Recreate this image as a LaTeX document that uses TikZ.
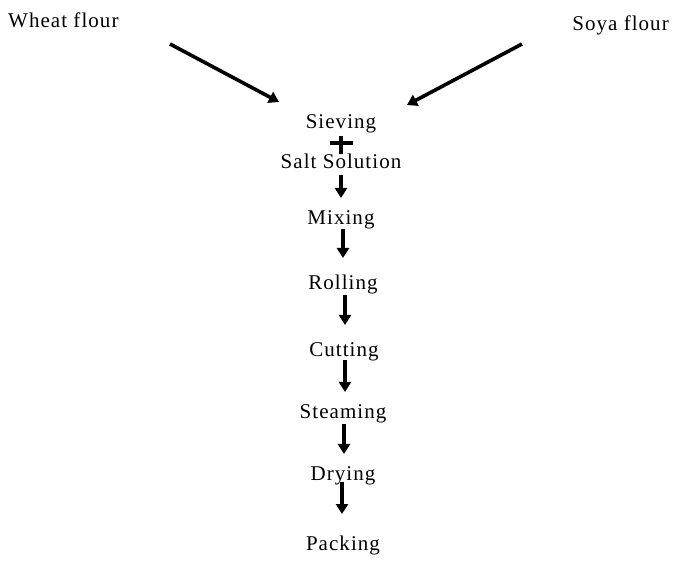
\documentclass[tikz,border=0pt]{standalone}
\usepackage{fontspec}
\setmainfont{Liberation Serif}[LetterSpace=5]
\usetikzlibrary{arrows.meta}
\begin{document}
\begin{tikzpicture}[x=1pt,y=-1pt,
  lbl/.style={inner sep=0pt,font=\fontsize{21}{24}\selectfont},
  flow/.style={line width=3.4pt,-{Triangle[width=12pt,length=10pt]}},
  feed/.style={line width=3.6pt,-{Triangle[width=12pt,length=10pt]}}]
\useasboundingbox (0,0) rectangle (678,585);
% raw materials
\node[lbl,anchor=base west] (wheat) at (8,28) {Wheat flour};
\node[lbl,anchor=base east] (soya) at (669,31) {Soya flour};
\coordinate (w0) at (170,44);
\coordinate (w1) at (279,102);
\coordinate (s0) at (522,44);
\coordinate (s1) at (407,105);
\draw[feed] (w0) -- (w1);
\draw[feed] (s0) -- (s1);
% process steps
\node[lbl,anchor=base] (sieve) at (341,129) {Sieving};
\node[lbl,anchor=base] (salt)  at (341,169) {Salt Solution};
\node[lbl,anchor=base] (mix)   at (341,225) {Mixing};
\node[lbl,anchor=base] (roll)  at (343,290) {Rolling};
\node[lbl,anchor=base] (cut)   at (344,357) {Cutting};
\node[lbl,anchor=base] (steam) at (343,419) {Steaming};
\node[lbl,anchor=base] (dry)   at (343,481) {Drying};
\node[lbl,anchor=base] (pack)  at (343,550) {Packing};
% joining mark between sieving and salt solution
\coordinate (c0) at (341,136);
\coordinate (c1) at (341,154);
\coordinate (cl) at (330,143);
\coordinate (cr) at (353,143);
\draw[line width=3.4pt] (c0) -- (c1);
\draw[line width=3.6pt] (cl) -- (cr);
% flow arrows
\draw[flow] (341,175) -- (341,198);
\draw[flow] (343,229) -- (343,258);
\draw[flow] (345,295) -- (345,325);
\draw[flow] (345,360) -- (345,392);
\draw[flow] (344,424) -- (344,454);
\draw[flow] (342,482) -- (342,514);
\end{tikzpicture}
\end{document}
